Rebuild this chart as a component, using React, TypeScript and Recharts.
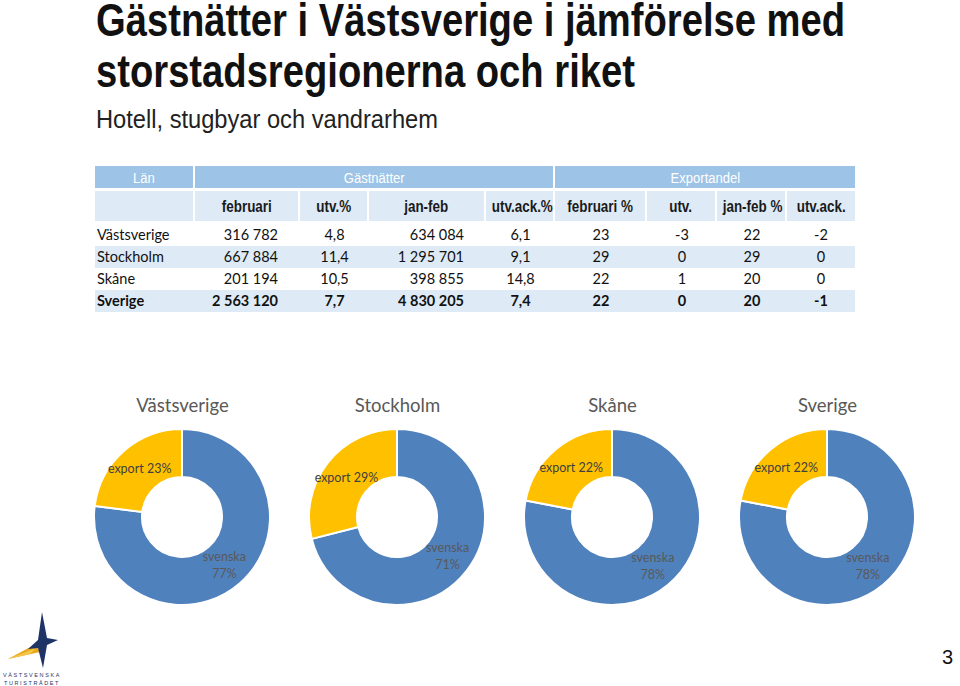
import { PieChart, Pie, Cell } from 'recharts'

const REGIONS = ['Västsverige', 'Stockholm', 'Skåne', 'Sverige']
const FEB = ['316 782', '667 884', '201 194', '2 563 120']
const FEB_UTV = ['4,8', '11,4', '10,5', '7,7']
const JANFEB = ['634 084', '1 295 701', '398 855', '4 830 205']
const JANFEB_UTV = ['6,1', '9,1', '14,8', '7,4']
const EXP_FEB = ['23', '29', '22', '22']
const EXP_UTV = ['-3', '0', '1', '0']
const EXP_JANFEB = ['22', '29', '20', '20']
const EXP_UTV_ACK = ['-2', '0', '0', '-1']

const SUBHEADERS = ['', 'februari', 'utv.%', 'jan-feb', 'utv.ack.%', 'februari %', 'utv.', 'jan-feb %', 'utv.ack.']

// pie values: [svenska, export]
const SVENSKA = [77, 71, 78, 78]
const EXPORT = [23, 29, 22, 22]

const BLUE = '#4F81BD'
const GOLD = '#FFC000'
const ARIAL = "'Liberation Sans', Arial, sans-serif"
const BODY = "Lato, 'Open Sans', sans-serif"

// column [left, width]
const COLS: [number, number][] = [
  [95, 98], [195, 103], [300, 67], [369, 115], [486, 67],
  [555, 90], [647, 68], [717, 68], [787, 68],
]
const ALIGN = ['left', 'right', 'center', 'right', 'center', 'center', 'center', 'center', 'center']
const PAD = [2, 22, 0, 22, 0, 0, 0, 0, 0]

const RADIAN = Math.PI / 180

// fake Arial Narrow by squeezing Liberation Sans
const Narrow = ({ children, s = 0.84, origin = 'center' }: any) => (
  <span style={{ display: 'inline-block', transform: `scaleX(${s})`, transformOrigin: origin, fontFamily: ARIAL }}>{children}</span>
)

const renderLabel = (props: any) => {
  const { cx, cy, midAngle, innerRadius, outerRadius, payload } = props
  const r = (innerRadius + outerRadius) / 2
  const x = cx + r * Math.cos(-midAngle * RADIAN)
  const y = cy + r * Math.sin(-midAngle * RADIAN)
  if (payload.name === 'export') {
    return (
      <text x={x} y={y} textAnchor="middle" dominantBaseline="central"
        fill="#404040" fontSize={12.5} fontFamily={BODY}>
        {`export ${payload.value}%`}
      </text>
    )
  }
  return (
    <text x={x} y={y} textAnchor="middle" fill="#595959" fontSize={12.5} fontFamily={BODY}>
      <tspan x={x} dy={-4}>svenska</tspan>
      <tspan x={x} dy={17}>{`${payload.value}%`}</tspan>
    </text>
  )
}

function Donut({ idx }: { idx: number }) {
  const data = [
    { name: 'svenska', value: SVENSKA[idx] },
    { name: 'export', value: EXPORT[idx] },
  ]
  const center = 182 + idx * 215
  return (
    <div style={{ position: 'absolute', left: center - 107, top: 394, width: 215 }}>
      <div style={{ textAlign: 'center', fontFamily: BODY, fontSize: 18.5, color: '#595959', height: 30 }}>
        {REGIONS[idx]}
      </div>
      <PieChart width={215} height={190} margin={{ top: 0, right: 0, bottom: 0, left: 0 }}>
        <Pie data={data} dataKey="value" cx={107} cy={93} innerRadius={40} outerRadius={88}
          startAngle={90} endAngle={-270} stroke="#fff" strokeWidth={2}
          isAnimationActive={false} labelLine={false} label={renderLabel}>
          <Cell fill={BLUE} />
          <Cell fill={GOLD} />
        </Pie>
      </PieChart>
    </div>
  )
}

function Cellbox({ left, top, width, height, bg, children, align = 'center', color = '#222', weight = 400, size = 14.5, pad = 0 }: any) {
  return (
    <div style={{
      position: 'absolute', left, top, width, height, background: bg, color,
      fontFamily: BODY, fontWeight: weight, fontSize: size, lineHeight: `${height}px`,
      textAlign: align, paddingLeft: align === 'left' ? pad : 0, paddingRight: align === 'right' ? pad : 0,
      boxSizing: 'border-box', whiteSpace: 'nowrap',
    }}>{children}</div>
  )
}

function Table() {
  const rows = REGIONS.map((r, i) => [r, FEB[i], FEB_UTV[i], JANFEB[i], JANFEB_UTV[i], EXP_FEB[i], EXP_UTV[i], EXP_JANFEB[i], EXP_UTV_ACK[i]])
  return (
    <>
      <Cellbox left={95} top={166} width={98} height={22} bg="#9DC3E6" color="#fff" size={15.5}><Narrow>Län</Narrow></Cellbox>
      <Cellbox left={195} top={166} width={358} height={22} bg="#9DC3E6" color="#fff" size={15.5}><Narrow>Gästnätter</Narrow></Cellbox>
      <Cellbox left={555} top={166} width={300} height={22} bg="#9DC3E6" color="#fff" size={15.5}><Narrow>Exportandel</Narrow></Cellbox>
      {SUBHEADERS.map((h, c) => (
        <Cellbox key={c} left={COLS[c][0]} top={191} width={COLS[c][1]} height={30} bg="#DEEBF7"
          size={16} weight={700} color="#1a1a1a"><Narrow>{h}</Narrow></Cellbox>
      ))}
      {rows.map((row, r) => row.map((v, c) => (
        <Cellbox key={`${r}-${c}`} left={COLS[c][0]} top={224 + r * 22} width={COLS[c][1] + (c === 8 ? 0 : 2)} height={22}
          bg={r % 2 === 1 ? '#DEEBF7' : '#fff'} align={ALIGN[c]} pad={PAD[c]}
          weight={r === 3 ? 700 : 400} color="#111">{v}</Cellbox>
      )))}
    </>
  )
}

function Logo() {
  return (
    <svg style={{ position: 'absolute', left: 0, top: 608 }} width={80} height={78}>
      <polygon points="8,51 36,36 40,44" fill="#E8A818" />
      <polygon points="8,51 36,40 30,46" fill="#F5C64A" />
      <polygon points="42,4 47,30 58,32 47,37 43,60 38,40 28,41 38,32" fill="#1F3466" />
      <text x={32} y={69} textAnchor="middle" fontSize={5.5} letterSpacing={1.6} fill="#1F3466" fontFamily={ARIAL}>VÄSTSVENSKA</text>
      <text x={32} y={77} textAnchor="middle" fontSize={5.5} letterSpacing={1.6} fill="#1F3466" fontFamily={ARIAL}>TURISTRÅDET</text>
    </svg>
  )
}

export default function App() {
  return (
    <div style={{ position: 'absolute', left: 0, top: 0, width: 960, height: 686, background: '#fff', overflow: 'hidden' }}>
      <div style={{ position: 'absolute', left: 96, top: 0, fontWeight: 700, fontSize: 46, color: '#111', whiteSpace: 'nowrap' }}>
        <div style={{ lineHeight: '41px', height: 41 }}>
          <Narrow s={0.83} origin="left center">Gästnätter i Västsverige i jämförelse med</Narrow>
        </div>
        <div style={{ lineHeight: '61px', height: 61 }}>
          <Narrow s={0.83} origin="left center">storstadsregionerna och riket</Narrow>
        </div>
      </div>
      <div style={{ position: 'absolute', left: 96, top: 104, fontSize: 26, lineHeight: '30px', color: '#222', whiteSpace: 'nowrap' }}>
        <Narrow s={0.91} origin="left center">Hotell, stugbyar och vandrarhem</Narrow>
      </div>
      <Table />
      {REGIONS.map((_, i) => <Donut key={i} idx={i} />)}
      <Logo />
      <div style={{ position: 'absolute', left: 942, top: 646, fontFamily: ARIAL, fontSize: 20, color: '#111' }}>3</div>
    </div>
  )
}
